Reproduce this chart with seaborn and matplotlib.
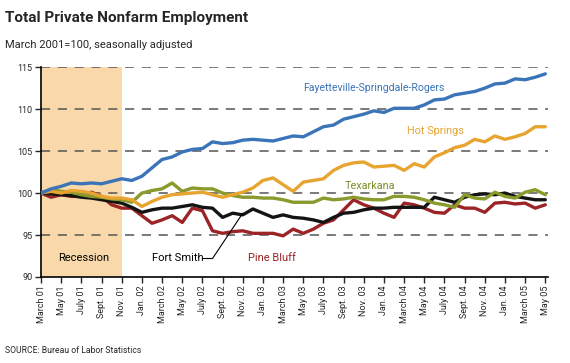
import numpy as np
import pandas as pd
import matplotlib
matplotlib.use("Agg")
import matplotlib.pyplot as plt
import seaborn as sns

# months since March 2001 (0 .. 50 = May 2005)
months = list(range(51))

tick_labels = ["March 01", "May 01", "July 01", "Sept. 01", "Nov. 01", "Jan. 02",
               "March 02", "May 02", "July 02", "Sept. 02", "Nov. 02", "Jan. 03",
               "March 03", "May 03", "July 03", "Sept. 03", "Nov. 03", "Jan. 04",
               "March 04", "May 04", "July 04", "Sept. 04", "Nov. 04", "Jan. 04",
               "March 05", "May 05"]

fayetteville = [100.0, 100.5, 100.8, 101.2, 101.1, 101.2, 101.1, 101.4, 101.7, 101.5,
                102.0, 103.0, 104.0, 104.3, 104.9, 105.2, 105.3, 106.1, 105.9, 106.0,
                106.3, 106.4, 106.3, 106.2, 106.5, 106.8, 106.7, 107.3, 107.9, 108.1,
                108.8, 109.1, 109.4, 109.8, 109.6, 110.1, 110.1, 110.1, 110.5, 111.1,
                111.2, 111.7, 111.9, 112.1, 112.5, 113.0, 113.1, 113.6, 113.5, 113.8,
                114.2]
hot_springs = [100.0, 100.2, 100.0, 100.3, 100.2, 100.0, 99.6, 99.4, 99.4, 99.2,
               98.4, 99.0, 99.5, 99.8, 99.9, 100.0, 100.1, 99.8, 99.5, 99.8,
               100.1, 100.6, 101.5, 101.8, 101.0, 100.2, 101.3, 101.5, 101.7, 102.7,
               103.3, 103.6, 103.7, 103.1, 103.2, 103.3, 102.7, 103.5, 103.1, 104.3,
               104.8, 105.4, 105.7, 106.4, 106.1, 106.8, 106.4, 106.7, 107.1, 107.9,
               107.9]
texarkana = [100.0, 100.4, 100.2, 100.1, 99.8, 99.6, 99.5, 99.3, 99.2, 98.9,
             100.0, 100.3, 100.5, 101.2, 100.2, 100.6, 100.5, 100.5, 100.0, 99.7,
             99.5, 99.5, 99.4, 99.4, 99.2, 98.9, 98.9, 98.9, 99.4, 99.2,
             99.3, 99.5, 99.3, 99.2, 99.2, 99.6, 99.6, 99.5, 99.2, 98.8,
             98.6, 98.3, 99.8, 99.4, 99.3, 100.1, 99.6, 99.4, 100.1, 100.4,
             99.8]
fort_smith = [100.0, 99.9, 99.8, 99.7, 99.5, 99.4, 99.2, 99.0, 98.8, 98.3,
              97.7, 98.0, 98.2, 98.2, 98.4, 98.6, 98.3, 98.2, 97.1, 97.6,
              97.4, 98.1, 97.6, 97.1, 97.4, 97.1, 97.0, 96.8, 96.5, 97.1,
              97.6, 97.7, 98.0, 98.2, 98.2, 98.3, 98.3, 98.3, 98.3, 99.5,
              99.2, 98.9, 99.5, 99.8, 99.9, 99.8, 100.0, 99.6, 99.4, 99.2,
              99.2]
pine_bluff = [100.0, 99.5, 99.8, 99.6, 99.6, 100.1, 99.6, 98.6, 98.2, 98.2,
              97.3, 96.4, 96.8, 97.3, 96.5, 98.2, 97.9, 95.5, 95.2, 95.4,
              95.5, 95.2, 95.2, 95.2, 94.9, 95.7, 95.2, 95.7, 96.4, 96.8,
              98.0, 99.2, 98.6, 98.2, 97.6, 97.1, 98.8, 98.6, 98.2, 97.7,
              97.6, 98.6, 98.2, 98.2, 97.7, 98.8, 98.9, 98.7, 98.8, 98.2,
              98.6]

names = ["Pine Bluff", "Fort Smith", "Texarkana", "Hot Springs", "Fayetteville-Springdale-Rogers"]
colors = ["#9b2426", "#141414", "#8a9a2c", "#e8a430", "#3b74b9"]
series = [pine_bluff, fort_smith, texarkana, hot_springs, fayetteville]

df = pd.concat([pd.DataFrame({"month": months, "index": s, "area": n})
                for n, s in zip(names, series)])

sns.set_style("white")
plt.rcParams['font.family'] = ['Liberation Sans Narrow', 'Roboto', 'DejaVu Sans']

fig = plt.figure(figsize=(5.7, 3.63), dpi=100)
ax = fig.add_axes([0.072, 0.237, 0.89, 0.578])

# recession shading
ax.axvspan(0, 8, color="#f9d9a9", zorder=0, lw=0)
for y in [95, 100, 105, 110, 115]:
    ax.axhline(y, color="#555555", lw=1.1, dashes=(6, 5), zorder=1)

sns.lineplot(data=df, x="month", y="index", hue="area", palette=colors,
             hue_order=names, lw=2.4, legend=False, ax=ax, zorder=3)

ax.set_xlim(0, 50.3)
ax.set_ylim(90, 115)
ax.set_yticks([90, 95, 100, 105, 110, 115])
ax.set_xticks(months[::2])
ax.set_xticklabels(tick_labels, rotation=90, fontsize=6.5)
ax.tick_params(axis="y", labelsize=6.5, length=4, width=1, direction="out", left=True, pad=2)
ax.tick_params(axis="x", length=4, width=1, direction="out", bottom=True, pad=2)
ax.set_xlabel("")
ax.set_ylabel("")
for s in ["top", "right"]:
    ax.spines[s].set_visible(False)
for s in ["left", "bottom"]:
    ax.spines[s].set_color("black")
    ax.spines[s].set_linewidth(1.2)

# series labels
ax.text(26, 112.5, "Fayetteville-Springdale-Rogers", color="#3b74b9", fontsize=7.6, va="center")
ax.text(36.3, 107.4, "Hot Springs", color="#e8a430", fontsize=7.8, va="center")
ax.text(30.1, 100.8, "Texarkana", color="#7f8f28", fontsize=7.8, va="center")
ax.text(4.2, 92.3, "Recession", color="black", fontsize=8, va="center", ha="center")
ax.text(11, 92.3, "Fort Smith", color="black", fontsize=8, va="center")
ax.text(20.5, 92.3, "Pine Bluff", color="#9b2426", fontsize=8, va="center")
ax.plot([16.0, 17.0, 20.0], [92.2, 92.2, 97.6], color="black", lw=0.8, zorder=4)

fig.text(0.008, 0.95, "Total Private Nonfarm Employment", fontsize=11, fontweight="bold", va="center")
fig.text(0.008, 0.877, "March 2001=100, seasonally adjusted", fontsize=8, va="center")
fig.text(0.008, 0.035, "SOURCE: Bureau of Labor Statistics", fontsize=6.2, va="center")

fig.savefig("out.png", dpi=100)
